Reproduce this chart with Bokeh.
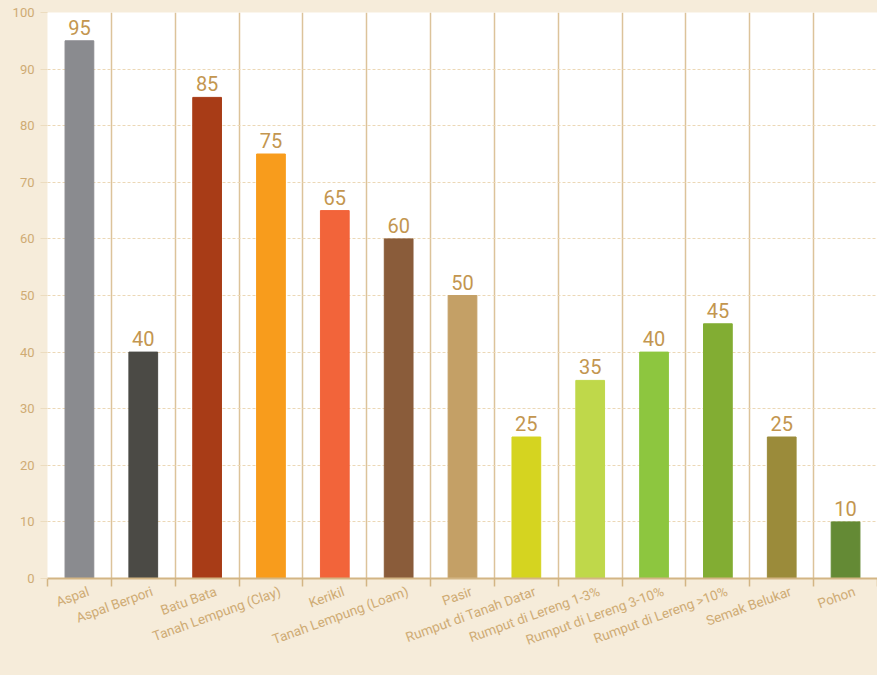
from bokeh.plotting import figure
from bokeh.models import Range1d, FixedTicker, ColumnDataSource, GlobalInlineStyleSheet, CustomJSTickFormatter
from bokeh.core.properties import value
from bokeh.embed import file_html
from bokeh.resources import INLINE
import math

categories = ["Aspal", "Aspal Berpori", "Batu Bata", "Tanah Lempung (Clay)", "Kerikil",
              "Tanah Lempung (Loam)", "Pasir", "Rumput di Tanah Datar", "Rumput di Lereng 1-3%",
              "Rumput di Lereng 3-10%", "Rumput di Lereng >10%", "Semak Belukar", "Pohon"]
values = [95, 40, 85, 75, 65, 60, 50, 25, 35, 40, 45, 25, 10]
colors = ["#8a8b8f", "#4b4a45", "#a83c17", "#f89c1c", "#f2643a", "#8a5c3a", "#c4a066",
          "#d5d420", "#bfd84a", "#8dc63f", "#82ad33", "#9b8b3a", "#648a35"]
y_ticks = list(range(0, 101, 10))

BEIGE = "#f6ecda"
TXT = "#cfab74"
VAL = "#c3964f"

idx = list(range(len(categories)))
src = ColumnDataSource(dict(x=idx, top=values, color=colors, label=[str(v) for v in values]))

p = figure(width=877, height=675, output_backend="svg", toolbar_location=None,
           x_range=Range1d(-0.5, len(categories) - 0.5), y_range=Range1d(0, 100),
           min_border_left=47, min_border_right=0, min_border_top=12, min_border_bottom=97)
p.background_fill_color = "white"
p.border_fill_color = BEIGE
p.outline_line_color = None
p.stylesheets = [GlobalInlineStyleSheet(css=f"body {{ background: {BEIGE}; }}")]

p.vbar(x="x", top="top", width=0.45, color="color", source=src)
p.text(x="x", y="top", text="label", source=src, y_offset=-6,
       text_align="center", text_baseline="bottom", text_color=VAL,
       text_font=value("Roboto"), text_font_size="20px")

bounds = [i - 0.5 for i in range(len(categories) + 1)]
label_pos = [i + 0.14 for i in idx]

# x axis
xa = p.xaxis[0]
xa.ticker = FixedTicker(ticks=label_pos, minor_ticks=bounds)
xa.formatter = CustomJSTickFormatter(args=dict(cats=categories),
                                     code="return cats[Math.round(tick - 0.14)];")
xa.major_label_orientation = math.radians(20)
xa.major_label_text_color = TXT
xa.major_label_text_font = "Roboto"
xa.major_label_text_font_size = "13.5px"
xa.major_tick_line_color = None
xa.minor_tick_line_color = "#d3b584"
xa.minor_tick_line_width = 1.5
xa.minor_tick_out = 8
xa.minor_tick_in = 0
xa.axis_line_color = "#d3b584"
xa.axis_line_width = 2
xa.major_label_standoff = 4

# y axis
ya = p.yaxis[0]
ya.ticker = FixedTicker(ticks=y_ticks)
ya.axis_line_color = None
ya.major_tick_line_color = "#ecdcbf"
ya.major_tick_out = 7
ya.major_tick_in = 0
ya.minor_tick_line_color = None
ya.major_label_text_color = TXT
ya.major_label_text_font = "Roboto"
ya.major_label_text_font_size = "13px"
ya.major_label_standoff = 6

# grids
p.xgrid.ticker = FixedTicker(ticks=bounds)
p.xgrid.grid_line_color = "#dcc39a"
p.xgrid.grid_line_width = 1.5
p.ygrid.grid_line_color = "#ecd8b6"
p.ygrid.grid_line_dash = "3 2"
p.ygrid.grid_line_width = 1

open("out.html", "w").write(file_html(p, INLINE))
